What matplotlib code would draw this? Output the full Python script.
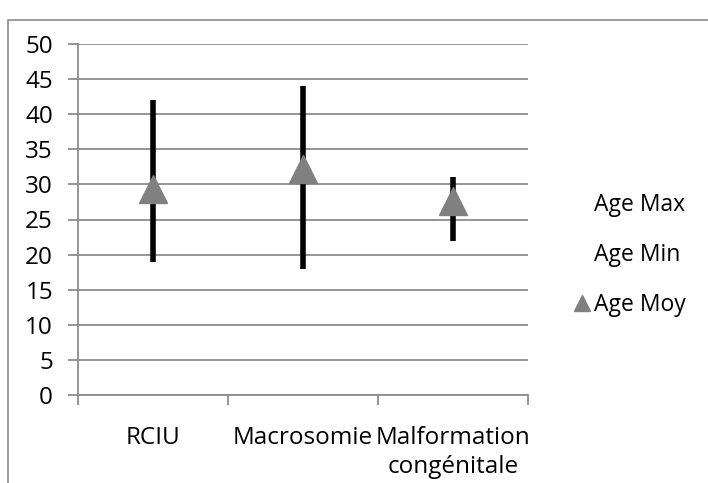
import numpy as np
import matplotlib.pyplot as plt
from matplotlib.lines import Line2D
from matplotlib.patches import Rectangle

categories = ['RCIU', 'Macrosomie', 'Malformation\ncongénitale']
age_max = [42, 44, 31]
age_min = [19, 18, 22]
age_moy = [29.4, 32.2, 27.6]

plt.rcParams['font.family'] = ['Open Sans', 'DejaVu Sans']
grid_col = '#8c8c8c'
tri_col = '#808080'
fs = 17.5

fig = plt.figure(figsize=(7.08, 4.83), dpi=100)
# outer chart frame
fig.patches.append(Rectangle((8/708, -0.1), 1.2, 1 - 20/483 + 0.1, transform=fig.transFigure,
                             fill=False, edgecolor='#8c8c8c', lw=1.2))

ax = fig.add_axes([78/708, 88/483, 450/708, 351/483])
x = np.arange(len(categories))

ax.vlines(x, age_min, age_max, color='black', lw=4, zorder=3)
ax.plot(x, age_moy, linestyle='none', marker='^', markersize=20, color=tri_col,
        markeredgecolor=tri_col, zorder=4)

ax.set_xlim(-0.5, 2.5)
ax.set_ylim(0, 50)
ax.set_yticks(np.arange(0, 51, 5))
ax.yaxis.grid(True, color=grid_col, lw=1.3)
ax.set_axisbelow(True)
for s in ['top', 'right']:
    ax.spines[s].set_visible(False)
for s in ['left', 'bottom']:
    ax.spines[s].set_color(grid_col)
    ax.spines[s].set_linewidth(1.3)

ax.set_xticks(x)
ax.set_xticklabels(categories, fontsize=fs, linespacing=1.3)
ax.tick_params(axis='x', which='major', length=0, pad=22)
ax.set_xticks(np.arange(-0.5, 3, 1), minor=True)
ax.tick_params(axis='x', which='minor', length=7, width=1.3, color=grid_col)
ax.tick_params(axis='y', length=7, width=1.3, color=grid_col, labelsize=fs, pad=11)

handles = [Line2D([], [], linestyle='none'),
           Line2D([], [], linestyle='none'),
           Line2D([], [], linestyle='none', marker='^', markersize=12, color=tri_col)]
fig.legend(handles, ['Age Max', 'Age Min', 'Age Moy'], loc='center left',
           bbox_to_anchor=(553/708, 1 - 255/483), frameon=False, fontsize=16.5,
           handlelength=0.75, handletextpad=0.15, labelspacing=1.12)

fig.savefig('out.png', dpi=100)
